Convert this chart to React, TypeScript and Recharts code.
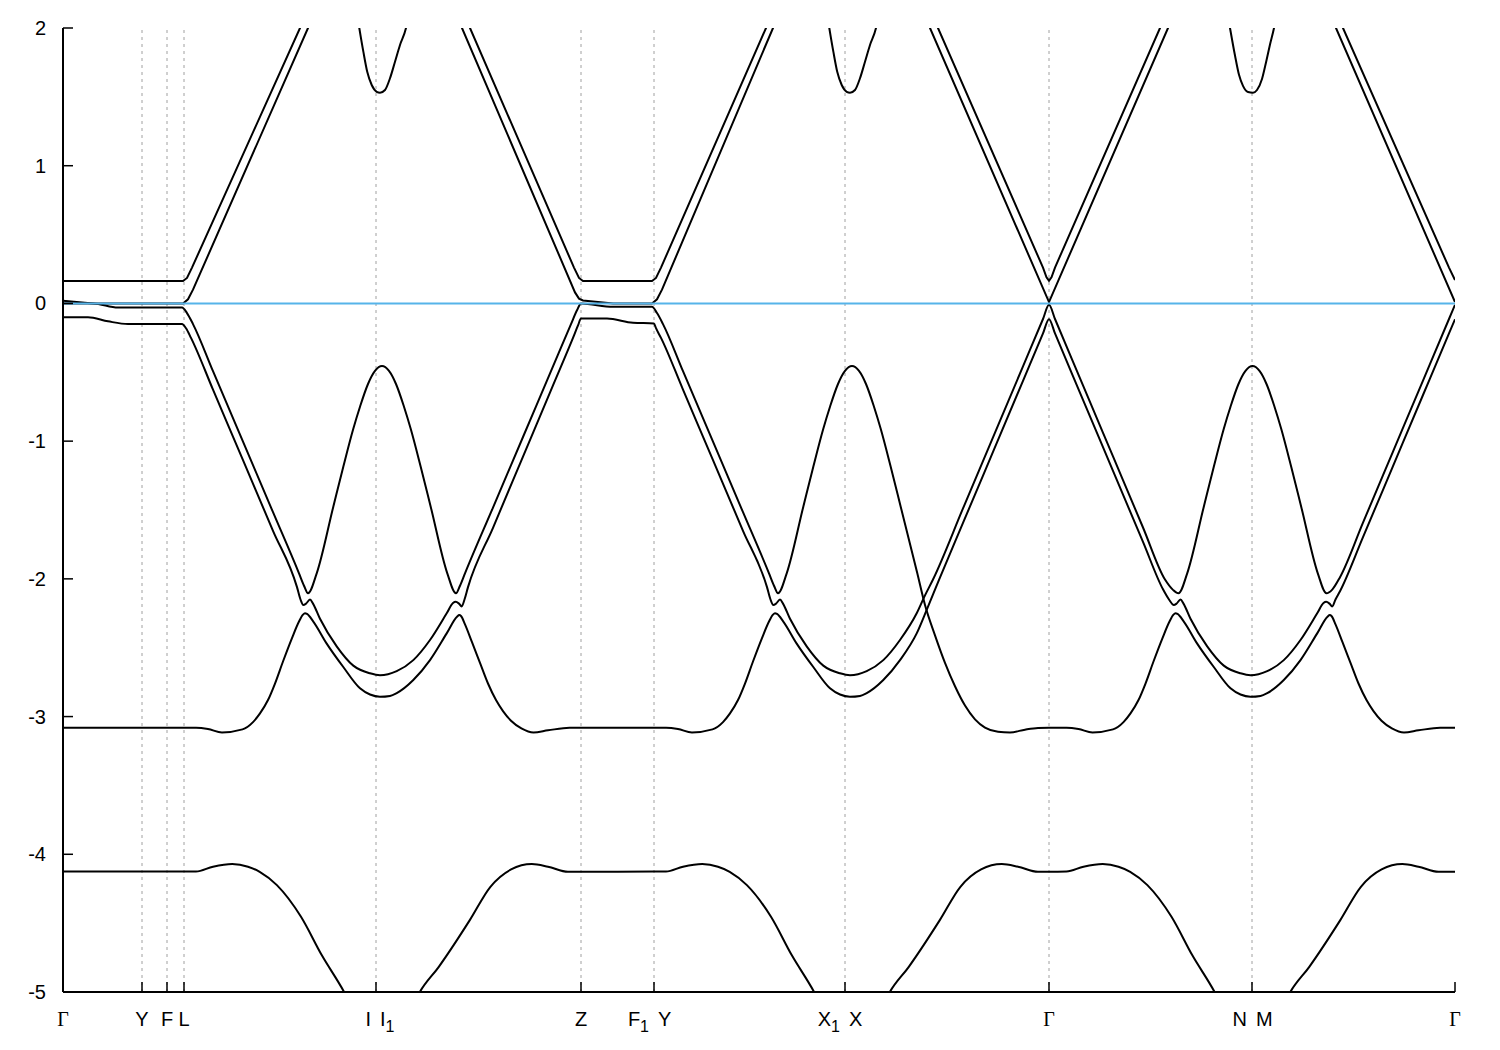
import { LineChart, Line, XAxis, YAxis, ReferenceLine } from "recharts";

// high-symmetry points along the k-path and their names
const kPoints = [0, 0.79, 1.04, 1.21, 3.13, 5.18, 5.91, 7.82, 9.86, 11.89, 13.92];
const kNames = ["Γ", "Y", "F", "L", "I|I_1", "Z", "F_1|Y", "X_1|X", "Γ", "N|M", "Γ"];
const energyTicks = [-5, -4, -3, -2, -1, 0, 1, 2];
const fermiLevel = 0;

// bands as [k, E] pairs
const pocketBand = [
  [2.9, 2.3], [2.963, 2.0], [3.003, 1.83], [3.043, 1.68], [3.087, 1.586], [3.137, 1.537], [3.17, 1.53],
  [3.22, 1.55], [3.27, 1.635], [3.32, 1.755], [3.37, 1.877], [3.43, 2.0], [3.5, 2.3],
  [7.6, 2.3], [7.663, 2.0], [7.703, 1.83], [7.743, 1.68], [7.787, 1.586], [7.837, 1.537], [7.87, 1.53],
  [7.92, 1.55], [7.97, 1.635], [8.02, 1.755], [8.07, 1.877], [8.13, 2.0], [8.2, 2.3],
  [11.6, 2.3], [11.67, 2.0], [11.72, 1.8], [11.76, 1.66], [11.8, 1.58], [11.85, 1.535], [11.9, 1.53],
  [11.94, 1.55], [11.99, 1.63], [12.03, 1.75], [12.07, 1.88], [12.11, 2.0], [12.18, 2.3],
];

// the two conduction bands are straight, drawn with linear segments
const condUpper = [
  [0, 0.163], [1.2, 0.163], [1.24, 0.185], [1.29, 0.26], [2.37, 2.0], [2.55, 2.3],
  [3.89, 2.3], [4.07, 2.0], [5.11, 0.26], [5.16, 0.185], [5.2, 0.163],
  [5.89, 0.163], [5.93, 0.185], [5.98, 0.26], [7.03, 2.0], [7.21, 2.3],
  [8.57, 2.3], [8.75, 2.0], [9.8, 0.26], [9.835, 0.19], [9.86, 0.165], [9.885, 0.19], [9.92, 0.26],
  [10.97, 2.0], [11.15, 2.3], [12.62, 2.3], [12.8, 2.0], [13.86, 0.26], [13.92, 0.17],
];

const condLower = [
  [0, 0.02], [0.3, 0.0], [1.2, 0.0], [1.25, 0.03], [1.3, 0.1], [2.45, 2.0], [2.63, 2.3],
  [3.81, 2.3], [3.99, 2.0], [5.12, 0.08], [5.16, 0.035], [5.2, 0.022], [5.5, 0.0], [5.89, 0.0],
  [5.94, 0.03], [5.99, 0.1], [7.1, 2.0], [7.28, 2.3], [8.49, 2.3], [8.67, 2.0], [9.86, 0.01],
  [11.05, 2.0], [11.23, 2.3], [12.55, 2.3], [12.73, 2.0], [13.92, 0.01],
];

const valA = [
  [0, 0.0], [0.3, 0.0], [0.55, -0.03], [1.19, -0.03], [1.24, -0.07], [1.3, -0.15], [1.5, -0.492],
  [1.8, -1.004], [2.1, -1.516], [2.36, -1.96], [2.41, -2.05], [2.45, -2.105], [2.537, -1.96], [2.703, -1.476],
  [2.803, -1.186], [2.903, -0.91], [2.97, -0.75], [3.05, -0.585], [3.12, -0.49], [3.19, -0.455], [3.26, -0.49],
  [3.33, -0.585], [3.41, -0.75], [3.477, -0.91], [3.577, -1.186], [3.677, -1.476], [3.843, -1.96],
  [3.93, -2.105], [3.97, -2.05], [4.02, -1.96], [4.3, -1.482], [4.6, -0.97], [4.9, -0.457], [5.08, -0.15],
  [5.14, -0.05], [5.18, 0.0], [5.5, -0.025], [5.89, -0.025], [5.94, -0.07], [6.0, -0.15], [6.2, -0.492],
  [6.5, -1.004], [6.8, -1.516], [7.06, -1.96], [7.11, -2.05], [7.15, -2.105], [7.237, -1.96], [7.403, -1.476],
  [7.503, -1.186], [7.603, -0.91], [7.67, -0.75], [7.75, -0.585], [7.82, -0.49], [7.89, -0.455], [7.96, -0.49],
  [8.03, -0.585], [8.11, -0.75], [8.177, -0.91], [8.277, -1.186], [8.377, -1.476], [8.543, -1.96],
  [8.62, -2.19], [8.72, -2.41], [8.82, -2.61], [8.92, -2.78], [9.02, -2.92], [9.12, -3.02], [9.22, -3.08],
  [9.35, -3.11], [9.47, -3.115], [9.62, -3.095], [9.75, -3.083], [9.86, -3.081], [10.035, -3.081],
  [10.155, -3.09], [10.295, -3.115], [10.5, -3.093], [10.605, -3.04], [10.675, -2.977], [10.755, -2.88],
  [10.825, -2.76], [10.905, -2.6], [10.995, -2.43], [11.065, -2.31], [11.105, -2.26], [11.125, -2.25],
  [11.145, -2.255], [11.208, -2.31], [11.342, -2.47], [11.508, -2.64], [11.675, -2.795], [11.775, -2.84],
  [11.875, -2.856], [11.975, -2.85], [12.042, -2.83], [12.208, -2.735], [12.375, -2.59], [12.542, -2.396],
  [12.645, -2.275], [12.668, -2.263], [12.685, -2.27], [12.725, -2.33], [12.795, -2.46], [12.875, -2.61],
  [12.955, -2.76], [13.035, -2.88], [13.105, -2.96], [13.185, -3.03], [13.289, -3.085], [13.41, -3.115],
  [13.555, -3.1], [13.771, -3.081], [13.92, -3.081],
];

const valB = [
  [0, -0.1], [0.25, -0.1], [0.45, -0.13], [0.65, -0.15], [1.19, -0.15], [1.23, -0.18], [1.28, -0.25],
  [1.5, -0.626], [1.8, -1.138], [2.1, -1.651], [2.34, -2.06], [2.375, -2.15], [2.403, -2.19], [2.43, -2.18],
  [2.47, -2.15], [2.5, -2.18], [2.57, -2.29], [2.737, -2.49], [2.903, -2.63], [3.07, -2.686], [3.17, -2.7],
  [3.337, -2.67], [3.503, -2.59], [3.67, -2.444], [3.837, -2.25], [3.9, -2.175], [3.927, -2.166], [3.96, -2.18],
  [3.987, -2.2], [4.015, -2.15], [4.05, -2.06], [4.3, -1.629], [4.6, -1.112], [4.9, -0.595], [5.1, -0.25],
  [5.15, -0.16], [5.18, -0.11], [5.44, -0.11], [5.7, -0.14], [5.91, -0.145], [5.93, -0.18], [5.98, -0.25],
  [6.2, -0.626], [6.5, -1.138], [6.8, -1.651], [7.04, -2.06], [7.075, -2.15], [7.103, -2.19], [7.13, -2.18],
  [7.17, -2.15], [7.2, -2.18], [7.27, -2.29], [7.437, -2.49], [7.603, -2.63], [7.77, -2.686], [7.87, -2.7],
  [8.037, -2.67], [8.203, -2.59], [8.37, -2.444], [8.537, -2.25], [8.62, -2.12], [8.7, -2.005], [9.0, -1.489],
  [9.3, -0.973], [9.6, -0.457], [9.8, -0.113], [9.86, -0.01], [9.92, -0.113], [10.2, -0.595], [10.5, -1.111],
  [10.8, -1.627], [11.02, -2.005], [11.1, -2.08], [11.155, -2.105], [11.242, -1.96], [11.408, -1.476],
  [11.508, -1.186], [11.608, -0.91], [11.675, -0.75], [11.755, -0.585], [11.825, -0.49], [11.895, -0.455],
  [11.965, -0.49], [12.035, -0.585], [12.115, -0.75], [12.182, -0.91], [12.282, -1.186], [12.382, -1.476],
  [12.548, -1.96], [12.635, -2.105], [12.69, -2.08], [12.77, -1.988], [13.0, -1.592], [13.3, -1.076],
  [13.6, -0.56], [13.86, -0.113], [13.92, -0.01],
];

const valC = [
  [0, -3.081], [1.33, -3.081], [1.45, -3.09], [1.59, -3.115], [1.795, -3.093], [1.9, -3.04], [1.97, -2.977],
  [2.05, -2.88], [2.12, -2.76], [2.2, -2.6], [2.29, -2.43], [2.36, -2.31], [2.4, -2.26], [2.42, -2.25],
  [2.44, -2.255], [2.503, -2.31], [2.637, -2.47], [2.803, -2.64], [2.97, -2.795], [3.07, -2.84], [3.17, -2.856],
  [3.27, -2.85], [3.337, -2.83], [3.503, -2.735], [3.67, -2.59], [3.837, -2.396], [3.94, -2.275],
  [3.963, -2.263], [3.98, -2.27], [4.02, -2.33], [4.09, -2.46], [4.17, -2.61], [4.25, -2.76], [4.33, -2.88],
  [4.4, -2.96], [4.48, -3.03], [4.584, -3.085], [4.705, -3.115], [4.85, -3.1], [5.066, -3.081], [5.18, -3.081],
  [5.91, -3.081], [6.03, -3.081], [6.15, -3.09], [6.29, -3.115], [6.495, -3.093], [6.6, -3.04], [6.67, -2.977],
  [6.75, -2.88], [6.82, -2.76], [6.9, -2.6], [6.99, -2.43], [7.06, -2.31], [7.1, -2.26], [7.12, -2.25],
  [7.14, -2.255], [7.203, -2.31], [7.337, -2.47], [7.503, -2.64], [7.67, -2.795], [7.77, -2.84], [7.87, -2.856],
  [7.97, -2.85], [8.037, -2.83], [8.203, -2.735], [8.37, -2.59], [8.537, -2.396], [8.64, -2.22], [8.76, -2.007],
  [9.0, -1.594], [9.3, -1.078], [9.6, -0.562], [9.8, -0.218], [9.86, -0.115], [9.92, -0.218], [10.2, -0.7],
  [10.5, -1.216], [10.8, -1.732], [11.0, -2.076], [11.06, -2.15], [11.108, -2.19], [11.135, -2.18],
  [11.175, -2.15], [11.205, -2.18], [11.275, -2.29], [11.442, -2.49], [11.608, -2.63], [11.775, -2.686],
  [11.875, -2.7], [12.042, -2.67], [12.208, -2.59], [12.375, -2.444], [12.542, -2.25], [12.605, -2.175],
  [12.632, -2.166], [12.665, -2.18], [12.692, -2.2], [12.725, -2.15], [12.77, -2.09], [13.0, -1.697],
  [13.3, -1.181], [13.6, -0.665], [13.86, -0.218], [13.92, -0.115],
];

const valD = [
  [0, -4.125], [1.33, -4.125], [1.5, -4.09], [1.692, -4.071], [1.85, -4.09], [1.967, -4.127], [2.139, -4.224],
  [2.38, -4.454], [2.587, -4.732], [2.811, -5.0], [2.95, -5.2], [3.43, -5.2], [3.568, -5.0], [3.758, -4.817],
  [4.068, -4.478], [4.274, -4.236], [4.481, -4.11], [4.688, -4.071], [4.85, -4.09], [5.05, -4.127],
  [5.18, -4.127], [5.91, -4.125], [6.03, -4.125], [6.2, -4.09], [6.392, -4.071], [6.55, -4.09], [6.667, -4.127],
  [6.839, -4.224], [7.08, -4.454], [7.287, -4.732], [7.511, -5.0], [7.65, -5.2], [8.13, -5.2], [8.268, -5.0],
  [8.458, -4.817], [8.768, -4.478], [8.974, -4.236], [9.181, -4.11], [9.388, -4.071], [9.55, -4.09],
  [9.75, -4.127], [9.86, -4.127], [10.035, -4.125], [10.205, -4.09], [10.397, -4.071], [10.555, -4.09],
  [10.672, -4.127], [10.844, -4.224], [11.085, -4.454], [11.292, -4.732], [11.516, -5.0], [11.655, -5.2],
  [12.135, -5.2], [12.273, -5.0], [12.463, -4.817], [12.773, -4.478], [12.979, -4.236], [13.186, -4.11],
  [13.393, -4.071], [13.555, -4.09], [13.755, -4.127], [13.92, -4.127],
];

const straightBands = [condUpper, condLower];
const curvedBands = [pocketBand, valA, valB, valC, valD];

const SANS = "'Liberation Sans', Arial, Helvetica, sans-serif";
const SERIF = "'Liberation Serif', 'DejaVu Serif', serif";
const TICK = 10;

function Piece({ x, y, label, anchor }: { x: number; y: number; label: string; anchor: "start" | "middle" | "end" }) {
  const [main, sub] = label.split("_");
  const greek = main === "Γ";
  return (
    <text x={x} y={y} textAnchor={anchor} fontSize={20} fontFamily={greek ? SERIF : SANS} fill="#000">
      <tspan>{main}</tspan>
      {sub && (
        <tspan dy={6} fontSize={16}>
          {sub}
        </tspan>
      )}
    </text>
  );
}

// eslint-disable-next-line @typescript-eslint/no-explicit-any
function KTick({ x, y, payload }: any) {
  const i = kPoints.findIndex((k) => Math.abs(k - payload.value) < 1e-6);
  const name = i >= 0 ? kNames[i] : "";
  const parts = name.split("|");
  const base = y + 34;
  return (
    <g>
      <line x1={x} y1={y} x2={x} y2={y - TICK} stroke="#000" strokeWidth={1.5} />
      {parts.length === 1 ? (
        <Piece x={x} y={base} label={parts[0]} anchor="middle" />
      ) : (
        <>
          <Piece x={x - 5} y={base} label={parts[0]} anchor="end" />
          <Piece x={x + 4} y={base} label={parts[1]} anchor="start" />
        </>
      )}
    </g>
  );
}

// eslint-disable-next-line @typescript-eslint/no-explicit-any
function TopTick({ x, y }: any) {
  return <line x1={x} y1={y} x2={x} y2={y + TICK} stroke="#000" strokeWidth={1.5} />;
}

// eslint-disable-next-line @typescript-eslint/no-explicit-any
function ETick({ x, y, payload }: any) {
  return (
    <g>
      <line x1={x} y1={y} x2={x + TICK} y2={y} stroke="#000" strokeWidth={1.5} />
      <text x={x - 17} y={y} dy="0.35em" textAnchor="end" fontSize={20} fontFamily={SANS} fill="#000">
        {payload.value}
      </text>
    </g>
  );
}

// eslint-disable-next-line @typescript-eslint/no-explicit-any
function RightTick({ x, y }: any) {
  return <line x1={x} y1={y} x2={x - TICK} y2={y} stroke="#000" strokeWidth={1.5} />;
}

export default function App() {
  const kMax = kPoints[kPoints.length - 1];
  return (
    <div style={{ position: "absolute", left: 0, top: 0, width: 1500, height: 1050, background: "#fff" }}>
      <LineChart width={1500} height={1050} margin={{ top: 28, right: 45, bottom: 18, left: 13 }}>
        <XAxis
          dataKey="k"
          type="number"
          domain={[0, kMax]}
          ticks={kPoints}
          interval={0}
          allowDataOverflow
          height={40}
          tickSize={0}
          tickMargin={0}
          tickLine={false}
          tick={<KTick />}
          axisLine={{ stroke: "#000", strokeWidth: 2 }}
        />
        <XAxis
          xAxisId="top"
          orientation="top"
          dataKey="k"
          type="number"
          domain={[0, kMax]}
          ticks={kPoints}
          interval={0}
          allowDataOverflow
          height={0}
          tickSize={0}
          tickMargin={0}
          tickLine={false}
          tick={<TopTick />}
          axisLine={{ stroke: "#000", strokeWidth: 2 }}
        />
        <YAxis
          type="number"
          domain={[-5, 2]}
          ticks={energyTicks}
          interval={0}
          allowDataOverflow
          width={50}
          tickSize={0}
          tickMargin={0}
          tickLine={false}
          tick={<ETick />}
          axisLine={{ stroke: "#000", strokeWidth: 2 }}
        />
        <YAxis
          yAxisId="right"
          orientation="right"
          type="number"
          domain={[-5, 2]}
          ticks={energyTicks}
          interval={0}
          allowDataOverflow
          width={0}
          tickSize={0}
          tickMargin={0}
          tickLine={false}
          tick={<RightTick />}
          axisLine={{ stroke: "#000", strokeWidth: 2 }}
        />
        {kPoints.slice(1, -1).map((k) => (
          <ReferenceLine key={k} x={k} stroke="#a0a0a0" strokeWidth={1} strokeDasharray="3 4" />
        ))}
        {straightBands.map((band, i) => (
          <Line
            key={"s" + i}
            data={band.map(([k, e]) => ({ k, e }))}
            dataKey="e"
            type="linear"
            stroke="#000"
            strokeWidth={2}
            dot={false}
            activeDot={false}
            isAnimationActive={false}
          />
        ))}
        {curvedBands.map((band, i) => (
          <Line
            key={"c" + i}
            data={band.map(([k, e]) => ({ k, e }))}
            dataKey="e"
            type="monotone"
            stroke="#000"
            strokeWidth={2}
            dot={false}
            activeDot={false}
            isAnimationActive={false}
          />
        ))}
        <ReferenceLine y={fermiLevel} stroke="#56b4e9" strokeWidth={2} />
      </LineChart>
    </div>
  );
}
